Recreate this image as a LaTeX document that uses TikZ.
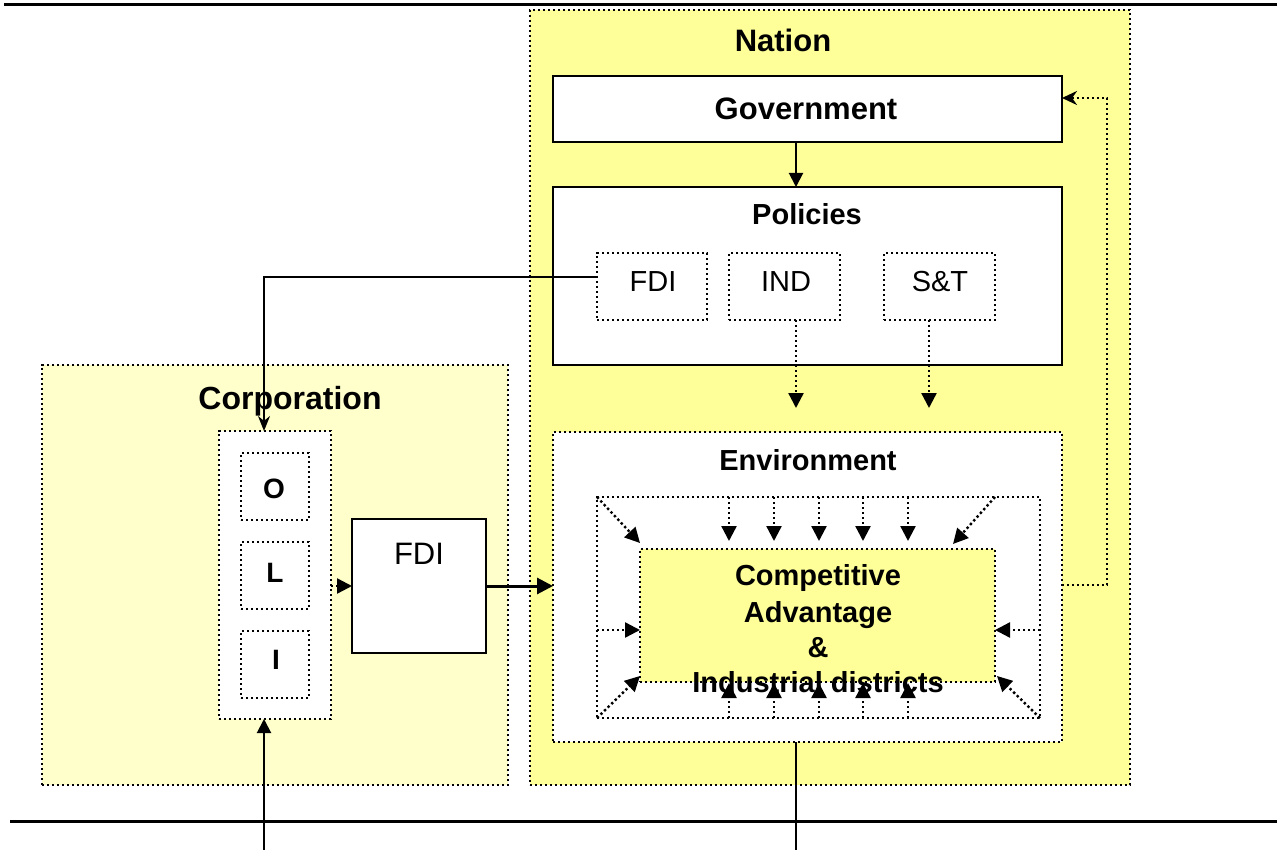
\documentclass[tikz,border=0pt]{standalone}
\usepackage{fontspec}
\setmainfont{Liberation Sans}
\usetikzlibrary{arrows.meta,calc}
\definecolor{nationfill}{HTML}{FFFF99}
\definecolor{corpfill}{HTML}{FFFFCC}
\begin{document}
\begin{tikzpicture}[x=1pt,y=-1pt,
  box/.style={rectangle, inner sep=0pt, outer sep=0pt, line width=2pt},
  dotbox/.style={box, draw, line width=2.4pt, dash pattern=on 2.4pt off 2.6pt},
  solidbox/.style={box, draw, fill=white},
  title/.style={anchor=base, inner sep=0pt, font=\fontsize{29}{35}\selectfont\bfseries},
  plain/.style={anchor=base, inner sep=0pt, font=\fontsize{29}{35}\selectfont},
  link/.style={line width=2pt, -{Triangle[length=14pt,width=14pt]}},
  thicklink/.style={line width=3pt, -{Triangle[length=16pt,width=16pt]}},
  dotlink/.style={line width=2.4pt, dash pattern=on 2.4pt off 2.6pt, -{Triangle[length=15pt,width=15pt]}},
  rule/.style={line width=3pt}
]
\useasboundingbox (0,0) rectangle (1277,850);

% horizontal rules
\coordinate (rtl) at (4,5);
\coordinate (rtr) at (1277,5);
\coordinate (rbl) at (10,821);
\coordinate (rbr) at (1277,821);
\draw[rule] (rtl) -- (rtr);
\draw[rule] (rbl) -- (rbr);

% the two regions
\node[dotbox, fill=nationfill, minimum width=600pt, minimum height=775pt] (nation) at (830,397.5) {};
\node[dotbox, fill=corpfill, minimum width=466pt, minimum height=420pt] (corp) at (275,575) {};
\node[title, font=\fontsize{31}{36}\selectfont\bfseries] (nationT) at (783,52) {Nation};
\node[title, font=\fontsize{32}{36}\selectfont\bfseries] (corpT) at (290,409) {Corporation};

% government and policies
\node[solidbox, minimum width=509pt, minimum height=66pt] (gov) at (807.5,109) {};
\node[title, font=\fontsize{31}{36}\selectfont\bfseries] (govT) at (806,120) {Government};
\node[solidbox, minimum width=509pt, minimum height=178pt] (pol) at (807.5,276) {};
\node[title] (polT) at (807,225) {Policies};
\node[dotbox, fill=white, minimum width=110pt, minimum height=67pt] (fdip) at (652,286.5) {};
\node[dotbox, fill=white, minimum width=111pt, minimum height=67pt] (ind) at (784.5,286.5) {};
\node[dotbox, fill=white, minimum width=111pt, minimum height=67pt] (st) at (939.5,286.5) {};
\node[plain] (fdipT) at (653,292) {FDI};
\node[plain] (indT) at (786,292) {IND};
\node[plain] (stT) at (940,292) {S\&T};

% environment
\node[dotbox, fill=white, minimum width=509pt, minimum height=310pt] (env) at (807.5,587) {};
\node[title] (envT) at (808,470) {Environment};
\node[dotbox, minimum width=443pt, minimum height=221pt] (inner) at (818.5,607.5) {};
\node[dotbox, fill=nationfill, minimum width=355pt, minimum height=133pt] (ca) at (817.5,615.5) {};

% corporation internals
\node[dotbox, fill=white, minimum width=112pt, minimum height=288pt] (oli) at (275,575) {};
\node[dotbox, minimum width=68pt, minimum height=67pt] (o) at (275,486.5) {};
\node[dotbox, minimum width=68pt, minimum height=67pt] (l) at (275,575.5) {};
\node[dotbox, minimum width=68pt, minimum height=67pt] (i) at (275,664.5) {};
\node[title, font=\fontsize{28}{34}\selectfont\bfseries] (oT) at (274,498) {O};
\node[title, font=\fontsize{28}{34}\selectfont\bfseries] (lT) at (275,582) {L};
\node[title, font=\fontsize{28}{34}\selectfont\bfseries] (iT) at (276,669) {I};
\node[solidbox, minimum width=134pt, minimum height=134pt] (fdi) at (419,586) {};
\node[plain, font=\fontsize{31}{36}\selectfont] (fdiT) at (419,564) {FDI};

% arrows inside the environment
\foreach \x in {729,774,819,863,908} {
  \draw[dotlink] (inner.north -| \x,0) -- ($(ca.north -| \x,0)+(0,-8)$);
  \draw[dotlink] (inner.south -| \x,0) -- ($(ca.south -| \x,0)+(0,1)$);
}
\draw[dotlink] (inner.north west) -- ($(ca.north west)+(0,-6)$);
\draw[dotlink] (inner.north -| ca.north east) -- ($(ca.north east)+(-42,-5)$);
\draw[dotlink] (inner.south west) -- ($(ca.south west)+(0,-6)$);
\draw[dotlink] (inner.south east) -- ($(ca.south east)+(2,-6)$);
\coordinate (midy) at (0,630);
\draw[dotlink] (inner.west |- midy) -- (ca.west |- midy);
\draw[dotlink] (inner.east |- midy) -- (ca.east |- midy);

% central text
\node[title] (ca1) at (818,585) {Competitive};
\node[title] (ca2) at (818,622) {Advantage};
\node[title] (ca3) at (818,657) {\&};
\node[title] (ca4) at (818,692) {Industrial districts};

% connectors
\coordinate (cx) at (796,0);
\coordinate (indend) at (796,408);
\coordinate (stend) at (929,408);
\coordinate (fdiy) at (0,277);
\coordinate (colx) at (264,0);
\coordinate (botin) at (264,850);
\coordinate (fbbot) at (1107,585);
\coordinate (fbtop) at (1107,98);
\coordinate (envout) at (796,850);

\draw[link] (gov.south -| cx) -- (pol.north -| cx);
\draw[dotlink] (ind.south -| indend) -- (indend);
\draw[dotlink] (st.south -| stend) -- (stend);
\draw[line width=2pt, -{Stealth[length=15pt,width=12pt]}] (fdip.west |- fdiy) -| (oli.north -| colx);
\draw[link] (botin) -- (oli.south -| colx);
\draw[dotlink] (oli.east |- fdi.west) -- (fdi.west);
\draw[thicklink] (fdi.east) -- (env.west |- fdi.east);
\draw[line width=2.4pt, dash pattern=on 2.4pt off 2.6pt, -{Stealth[length=15pt,width=14pt]}]
  (env.east |- fbbot) -- (fbbot) -- (fbtop) -- (gov.east |- fbtop);
\draw[line width=2pt] (env.south -| cx) -- (envout);
\end{tikzpicture}
\end{document}
